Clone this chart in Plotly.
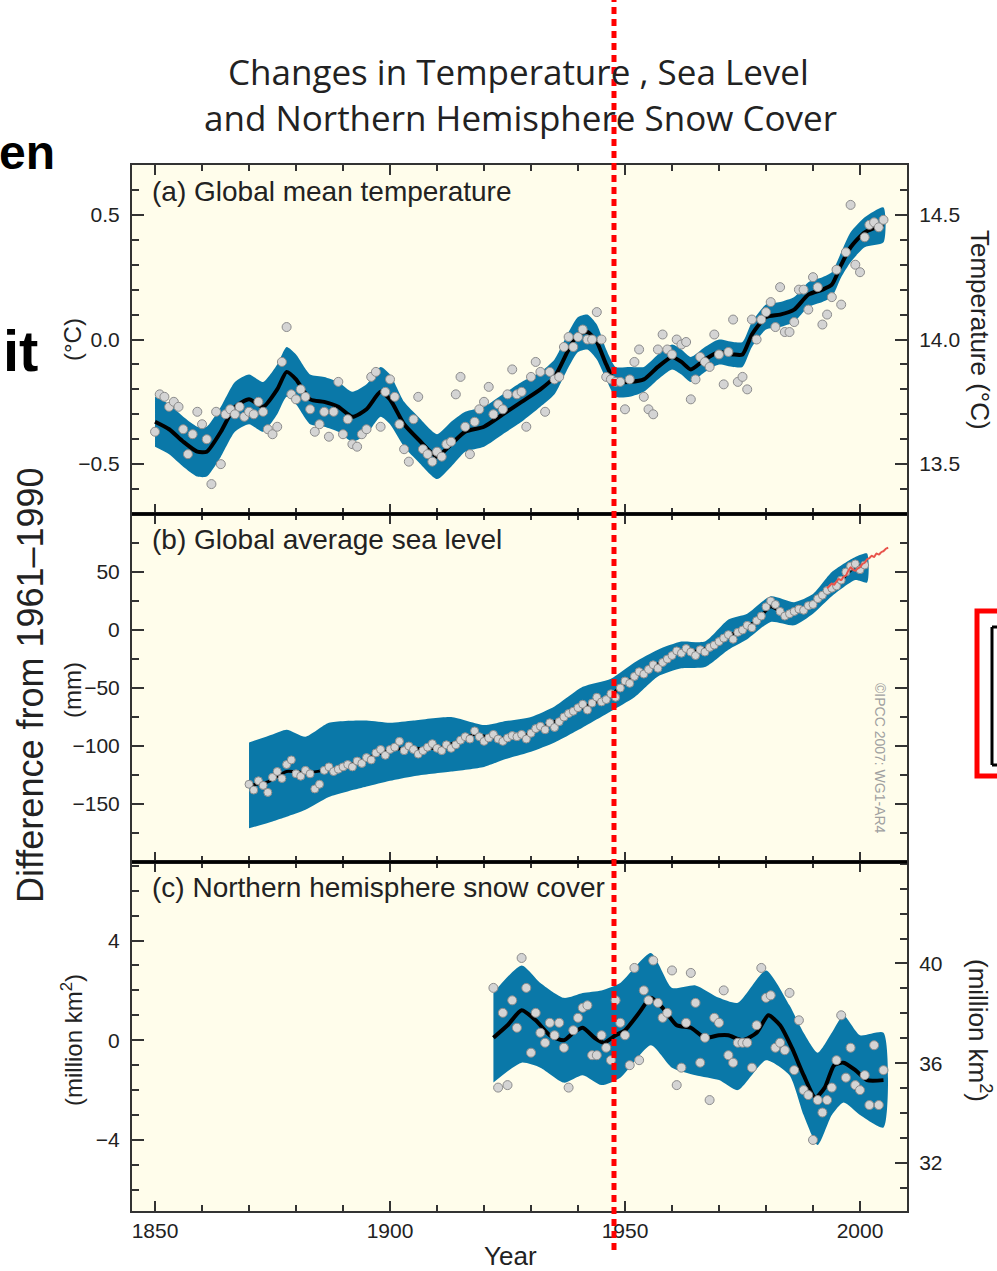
import plotly.graph_objects as go

W, H = 997, 1271

# ---------------- DATA ----------------
# (a) Global mean temperature, annual anomalies (degC), 1850-2005
temp_years = list(range(1850, 2006))
temp_vals = [
    -0.37, -0.22, -0.23, -0.27, -0.25, -0.27, -0.36, -0.46, -0.38, -0.29,
    -0.34, -0.40, -0.58, -0.29, -0.50, -0.30, -0.28, -0.30, -0.27, -0.31,
    -0.29, -0.30, -0.25, -0.29, -0.36, -0.38, -0.35, -0.09, 0.05, -0.22,
    -0.24, -0.20, -0.23, -0.28, -0.37, -0.34, -0.29, -0.39, -0.29, -0.17,
    -0.38, -0.32, -0.42, -0.43, -0.38, -0.36, -0.15, -0.13, -0.35, -0.21,
    -0.16, -0.23, -0.34, -0.44, -0.49, -0.32, -0.23, -0.44, -0.46, -0.49,
    -0.45, -0.47, -0.42, -0.41, -0.22, -0.15, -0.35, -0.46, -0.33, -0.28,
    -0.25, -0.19, -0.30, -0.26, -0.28, -0.22, -0.12, -0.22, -0.21, -0.35,
    -0.15, -0.09, -0.13, -0.29, -0.13, -0.16, -0.15, -0.03, 0.01, -0.03,
    0.01, 0.04, 0.00, 0.00, 0.11, 0.00, -0.15, -0.16, -0.17, -0.17,
    -0.28, -0.16, -0.09, -0.04, -0.23, -0.28, -0.30, -0.04, 0.02, -0.04,
    -0.06, 0.00, -0.02, -0.01, -0.24, -0.16, -0.07, -0.09, -0.11, 0.02,
    -0.06, -0.18, -0.05, 0.08, -0.17, -0.15, -0.20, 0.08, 0.00, 0.08,
    0.11, 0.15, 0.05, 0.21, 0.03, 0.03, 0.07, 0.20, 0.20, 0.12,
    0.25, 0.21, 0.06, 0.10, 0.17, 0.28, 0.14, 0.35, 0.54, 0.30,
    0.27, 0.41, 0.46, 0.47, 0.45, 0.48,
]
temp_smooth_years = [1850, 1853, 1856, 1859, 1861, 1864, 1867, 1870, 1873, 1876,
                     1878, 1880, 1883, 1886, 1889, 1892, 1895, 1898, 1900, 1903,
                     1906, 1910, 1913, 1916, 1920, 1924, 1928, 1932, 1935, 1938,
                     1940, 1942, 1944, 1946, 1948, 1951, 1954, 1957, 1960, 1962,
                     1964, 1967, 1970, 1973, 1975, 1977, 1980, 1983, 1986, 1989,
                     1992, 1994, 1996, 1998, 2001, 2005]
temp_smooth = [-0.33, -0.36, -0.41, -0.45, -0.45, -0.37, -0.27, -0.24, -0.27, -0.20,
               -0.13, -0.16, -0.24, -0.25, -0.27, -0.31, -0.28, -0.21, -0.24, -0.34,
               -0.40, -0.47, -0.42, -0.37, -0.35, -0.30, -0.25, -0.20, -0.15, -0.04,
               0.02, 0.03, -0.01, -0.10, -0.17, -0.17, -0.16, -0.11, -0.07, -0.09,
               -0.12, -0.08, -0.05, -0.06, -0.06, 0.02, 0.09, 0.10, 0.12, 0.18,
               0.20, 0.22, 0.30, 0.37, 0.43, 0.46]
temp_halfwidth = [0.10, 0.10, 0.10, 0.10, 0.10, 0.10, 0.10, 0.10, 0.10, 0.10,
                  0.10, 0.10, 0.10, 0.10, 0.10, 0.10, 0.10, 0.10, 0.10, 0.09,
                  0.09, 0.09, 0.09, 0.08, 0.08, 0.08, 0.08, 0.07, 0.07, 0.07,
                  0.07, 0.07, 0.07, 0.06, 0.06, 0.06, 0.05, 0.05, 0.05, 0.05,
                  0.05, 0.05, 0.05, 0.05, 0.05, 0.05, 0.05, 0.05, 0.05, 0.05,
                  0.05, 0.05, 0.05, 0.06, 0.06, 0.07]

# (b) Global average sea level (mm), annual, 1870-2001
sea_years = list(range(1870, 2002))
sea_vals = [
    -133, -138, -130, -134, -140, -127, -122, -128, -116, -112,
    -124, -126, -121, -124, -137, -133, -121, -118, -122, -120,
    -118, -116, -118, -113, -115, -110, -112, -106, -103, -108,
    -103, -101, -96, -104, -100, -103, -107, -104, -101, -98,
    -102, -104, -99, -102, -99, -95, -92, -94, -87, -92,
    -96, -93, -90, -94, -96, -93, -91, -92, -90, -94,
    -89, -85, -83, -86, -80, -84, -79, -75, -72, -70,
    -67, -64, -69, -63, -58, -62, -60, -55, -58, -50,
    -44, -46, -40, -36, -38, -34, -30, -33, -28, -25,
    -22, -18, -20, -16, -19, -22, -17, -19, -15, -13,
    -10, -7, -4, -8, -2, 0, 4, 2, 8, 12,
    20, 25, 22, 16, 12, 14, 16, 18, 17, 21,
    22, 27, 30, 34, 36, 38, 43, 50, 55, 57,
    52, 56,
]
sea_smooth_years = [1870, 1874, 1878, 1882, 1886, 1890, 1895, 1900, 1905, 1910,
                    1915, 1918, 1922, 1926, 1930, 1934, 1938, 1942, 1946, 1950,
                    1954, 1958, 1962, 1966, 1970, 1974, 1978, 1981, 1984, 1987,
                    1990, 1993, 1996, 1999, 2001]
sea_smooth = [-134, -131, -122, -123, -121, -118, -111, -103, -102, -102,
              -95, -90, -93, -93, -89, -81, -73, -65, -59, -46,
              -36, -27, -18, -18, -9, -1, 8, 20, 14, 16,
              22, 34, 43, 55, 56]
sea_band_years = [1870, 1875, 1878, 1882, 1887, 1895, 1900, 1905, 1913, 1920,
                  1924, 1930, 1935, 1941, 1947, 1952, 1957, 1962, 1967, 1972,
                  1976, 1981, 1986, 1990, 1994, 1999, 2001.5]
sea_upper = [-97, -90, -86, -92, -80, -78, -80, -78, -75, -82,
             -79, -75, -66, -49, -42, -28, -17, -10, -10, 9,
             14, 29, 24, 31, 50, 63, 66]
sea_lower = [-171, -165, -161, -155, -144, -135, -130, -126, -122, -118,
             -112, -105, -97, -84, -70, -58, -40, -33, -32, -17,
             -8, 7, 4, 14, 29, 43, 41]
sat_years = [1993.0, 1993.5, 1994.0, 1994.5, 1995.0, 1995.5, 1996.0, 1996.5, 1997.0,
             1997.5, 1998.0, 1998.5, 1999.0, 1999.5, 2000.0, 2000.5, 2001.0, 2001.5,
             2002.0, 2002.5, 2003.0, 2003.5, 2004.0, 2004.5, 2005.0, 2005.5, 2006.0]
sat_vals = [36, 38, 40, 39, 42, 44, 43, 46, 47, 51, 54, 52, 51, 53, 54, 57, 58, 61,
            62, 64, 63, 66, 65, 67, 68, 70, 71]

# (c) Northern hemisphere snow cover (million km2), annual, 1922-2005
snow_years = list(range(1922, 2006))
snow_vals = [
    2.1, -1.9, 1.1, -1.8, 1.6, 0.5, 3.3, 2.1,
    -0.5, 1.1, 0.3, -0.1, 0.7, 0.2, 0.7, -0.3, -1.9, 0.4,
    0.9, 1.3, 1.4, -0.6, -0.6, 0.2, -0.3, -0.8, 1.6, 0.7,
    0.2, -1.0, 2.9, -0.8, 2.0, 1.6, 3.2, 1.5, 0.9, 1.1,
    2.8, -1.8, -1.1, 0.7, 2.7, 1.5, -0.9, 0.1, -2.4, 0.9,
    0.7, 2.0, -0.6, -0.9, -0.1, -0.1, -0.1, -1.1, 0.6, 2.9,
    1.7, 1.8, -0.3, -0.1, -0.4, 1.9, -1.2, 0.8, -2.0, -2.2,
    -4.0, -2.4, -2.9, -2.4, -1.9, -0.8, 1.0, -1.5, -0.3, -1.8,
    -2.0, -1.4, -2.6, -0.2, -2.6, -1.2,
]
snow_smooth_years = [1922, 1925, 1928, 1931, 1934, 1937, 1939, 1941, 1943.5, 1945.5,
                     1948, 1950, 1953, 1955.5, 1958, 1961, 1964, 1967, 1970, 1972,
                     1975, 1978, 1980.5, 1983, 1985.5, 1988, 1990.5, 1992.5, 1994.5,
                     1996.5, 1999, 2001.5, 2005]
snow_smooth = [0.1, 0.6, 1.2, 0.8, 0.2, 0.0, 0.3, 0.5, 0.1, -0.1,
               0.2, 0.4, 1.1, 1.7, 1.3, 0.6, 0.5, 0.1, 0.2, 0.2,
               0.0, 0.3, 1.0, 0.6, -0.3, -1.4, -2.3, -1.9, -1.0,
               -0.9, -1.2, -1.6, -1.6]
snow_band_years = [1922, 1928, 1932, 1937, 1941, 1945, 1949, 1955.5, 1960, 1965,
                   1970, 1974, 1980, 1985, 1988, 1991, 1994, 1996.5, 2000, 2005]
snow_upper = [1.9, 3.0, 2.3, 1.7, 1.9, 2.0, 2.3, 3.5, 2.1, 2.2,
              1.7, 1.5, 2.8, 1.4, 0.3, -0.5, 0.3, 1.0, 0.2, 0.3]
snow_lower = [-1.7, -0.9, -1.1, -1.7, -1.4, -1.8, -1.5, -0.2, -1.1, -1.4,
              -1.6, -2.0, -0.8, -1.4, -3.0, -4.2, -3.0, -2.5, -3.0, -3.5]

# tick labels
x_tickvals = [1850, 1900, 1950, 2000]
x_ticktext = ["1850", "1900", "1950", "2000"]
a_tickvals = [-0.5, 0.0, 0.5]
a_ticktext = ["\u22120.5", "0.0", "0.5"]
a_right_tickvals = [13.5, 14.0, 14.5]
a_right_ticktext = ["13.5", "14.0", "14.5"]
b_tickvals = [-150, -100, -50, 0, 50]
b_ticktext = ["\u2212150", "\u2212100", "\u221250", "0", "50"]
c_tickvals = [-4, 0, 4]
c_ticktext = ["\u22124", "0", "4"]
c_right_tickvals = [32, 36, 40]
c_right_ticktext = ["32", "36", "40"]

# ---------------- STYLE ----------------
BAND = "#0a78a8"
PT_FILL = "#d4d4d4"
PT_LINE = "#8c8c8c"
BG = "#fffdeb"
AX = "#333333"
FONT = "Liberation Sans, Arial, sans-serif"


def px_x(p):
    return p / W


def px_y(p):
    return 1 - p / H


XL, XR = px_x(132), px_x(907)
dom_a = [px_y(514), px_y(165)]
dom_b = [px_y(862), px_y(514)]
dom_c = [px_y(1211), px_y(862)]

fig = go.Figure()


def band(xs, up, lo, xa, ya):
    fig.add_trace(go.Scatter(
        x=list(xs) + list(xs)[::-1], y=list(up) + list(lo)[::-1],
        fill="toself", fillcolor=BAND, mode="lines",
        line=dict(width=0, color=BAND, shape="spline", smoothing=0.6),
        xaxis=xa, yaxis=ya, hoverinfo="skip", showlegend=False))


def curve(xs, ys, xa, ya, color="black", width=4):
    fig.add_trace(go.Scatter(
        x=xs, y=ys, mode="lines",
        line=dict(color=color, width=width, shape="spline", smoothing=0.6),
        xaxis=xa, yaxis=ya, showlegend=False))


def points(xs, ys, xa, ya, size=9):
    fig.add_trace(go.Scatter(
        x=xs, y=ys, mode="markers",
        marker=dict(size=size, color=PT_FILL, line=dict(color=PT_LINE, width=1)),
        xaxis=xa, yaxis=ya, showlegend=False))


# panel a
ta_up = [s + h for s, h in zip(temp_smooth, temp_halfwidth)]
ta_lo = [s - h for s, h in zip(temp_smooth, temp_halfwidth)]
band(temp_smooth_years, ta_up, ta_lo, "x", "y")
curve(temp_smooth_years, temp_smooth, "x", "y")
points(temp_years, temp_vals, "x", "y")

# panel b
band(sea_band_years, sea_upper, sea_lower, "x2", "y2")
curve(sea_smooth_years, sea_smooth, "x2", "y2", width=3)
points(sea_years, sea_vals, "x2", "y2", size=8)
curve(sat_years, sat_vals, "x2", "y2", color="#e8544c", width=2)

# panel c
band(snow_band_years, snow_upper, snow_lower, "x3", "y3")
curve(snow_smooth_years, snow_smooth, "x3", "y3")
points(snow_years, snow_vals, "x3", "y3")

# invisible traces so the right-hand (absolute value) axes are drawn
fig.add_trace(go.Scatter(x=[1900], y=[14.0], mode="markers", marker=dict(opacity=0),
                         xaxis="x", yaxis="y4", hoverinfo="skip", showlegend=False))
fig.add_trace(go.Scatter(x=[1900], y=[36.0], mode="markers", marker=dict(opacity=0),
                         xaxis="x3", yaxis="y5", hoverinfo="skip", showlegend=False))

tickfont = dict(family=FONT, size=21, color="#222")
XRANGE = [1845.1, 2010.0]


def xaxis(anchor, labels):
    return dict(
        domain=[XL, XR], anchor=anchor, range=XRANGE,
        showline=True, linecolor=AX, linewidth=2, mirror="ticks",
        ticks="inside", ticklen=10, tickwidth=1.5, tickcolor=AX,
        tickvals=x_tickvals, ticktext=x_ticktext, showticklabels=labels,
        tickfont=tickfont, showgrid=False, zeroline=False,
        minor=dict(dtick=10, tick0=1850, ticks="inside", ticklen=6,
                   tickwidth=1.5, tickcolor=AX, showgrid=False),
        fixedrange=True)


def yaxis(domain, rng, tv, tt, mdtick, mtick0, anchor="x", mirror="ticks",
          side="left", overlaying=None, labels=True):
    d = dict(
        domain=domain, anchor=anchor, range=rng, side=side,
        showline=True, linecolor=AX, linewidth=2, mirror=mirror,
        ticks="inside", ticklen=12, tickwidth=1.5, tickcolor=AX,
        tickvals=tv, ticktext=tt, showticklabels=labels,
        tickfont=tickfont, showgrid=False, zeroline=False,
        minor=dict(dtick=mdtick, tick0=mtick0, ticks="inside", ticklen=7,
                   tickwidth=1.5, tickcolor=AX, showgrid=False),
        fixedrange=True, ticklabelstandoff=6)
    if overlaying:
        d["overlaying"] = overlaying
    return d


fig.update_layout(
    width=W, height=H,
    margin=dict(l=0, r=0, t=0, b=0),
    paper_bgcolor="white", plot_bgcolor=BG,
    showlegend=False,
    font=dict(family=FONT, color="#222"),
    xaxis=xaxis("y", False),
    xaxis2=xaxis("y2", False),
    xaxis3=xaxis("y3", True),
    yaxis=yaxis(dom_a, [-0.70, 0.70], a_tickvals, a_ticktext, 0.1, 0, mirror=False),
    yaxis4=yaxis(dom_a, [13.30, 14.70], a_right_tickvals, a_right_ticktext, 0.1, 13.0,
                 side="right", overlaying="y", mirror=False),
    yaxis2=yaxis(dom_b, [-200, 100], b_tickvals, b_ticktext, 25, 0, anchor="x2"),
    yaxis3=yaxis(dom_c, [-6.85, 7.15], c_tickvals, c_ticktext, 1, 0, anchor="x3",
                 mirror=False),
    yaxis5=yaxis(dom_c, [30.07, 44.07], c_right_tickvals, c_right_ticktext, 1, 30,
                 anchor="x3", side="right", overlaying="y3", mirror=False),
)

ann = []


def text(x, y, s, size, xanchor="center", yanchor="middle", angle=0, color="#222",
         family=FONT):
    ann.append(dict(x=px_x(x), y=px_y(y), xref="paper", yref="paper", text=s,
                    showarrow=False, xanchor=xanchor, yanchor=yanchor,
                    textangle=angle, font=dict(size=size, color=color, family=family)))


TITLE_FONT = "Open Sans, Noto Sans, sans-serif"
text(518, 72, "Changes in Temperature , Sea Level", 35, family=TITLE_FONT)
text(520, 118, "and Northern Hemisphere Snow Cover", 35, family=TITLE_FONT)

text(150, 191, "(a) Global mean temperature", 28, xanchor="left")
text(150, 540, "(b) Global average sea level", 28, xanchor="left")
text(150, 888, "(c) Northern hemisphere snow cover", 28, xanchor="left")

text(510, 1256, "Year", 26)
text(30, 685, "Difference from 1961\u20131990", 36, angle=-90)
text(72, 340, "(\u00b0C)", 24, angle=-90)
text(72, 690, "(mm)", 24, angle=-90)
text(72, 1040, "(million km<sup>2</sup>)", 24, angle=-90)
text(980, 330, "Temperature (\u00b0C)", 26, angle=90)
text(980, 1030, "(million km<sup>2</sup>)", 26, angle=90)
text(880, 758, "\u00a9IPCC 2007: WG1-AR4", 14, angle=90, color="#a0a0a0")

ann.append(dict(x=px_x(57), y=px_y(153), xref="paper", yref="paper",
                text="<b>en</b>", showarrow=False, xanchor="right", yanchor="middle",
                font=dict(size=48, color="black", family="Liberation Sans, Arial")))
ann.append(dict(x=px_x(40), y=px_y(350), xref="paper", yref="paper",
                text="<b>it</b>", showarrow=False, xanchor="right", yanchor="middle",
                font=dict(size=58, color="black", family="Liberation Sans, Arial")))
fig.update_layout(annotations=ann)

shapes = []
# panel separators
for yy in (514, 862):
    shapes.append(dict(type="line", xref="paper", yref="paper", x0=XL, x1=XR,
                       y0=px_y(yy), y1=px_y(yy), line=dict(color="black", width=3)))
# red dotted marker line
shapes.append(dict(type="line", xref="paper", yref="paper", x0=px_x(614), x1=px_x(614),
                   y0=px_y(1250), y1=px_y(0), line=dict(color="#ff0000", width=5, dash="7px,5px")))
# red box at right edge, with a black box inside
shapes.append(dict(type="rect", xref="paper", yref="paper", x0=px_x(977), x1=px_x(1010),
                   y0=px_y(776), y1=px_y(611), line=dict(color="#ff0000", width=5)))
shapes.append(dict(type="line", xref="paper", yref="paper", x0=px_x(992), x1=px_x(992),
                   y0=px_y(765), y1=px_y(627), line=dict(color="black", width=3)))
shapes.append(dict(type="line", xref="paper", yref="paper", x0=px_x(992), x1=px_x(1000),
                   y0=px_y(627), y1=px_y(627), line=dict(color="black", width=3)))
shapes.append(dict(type="line", xref="paper", yref="paper", x0=px_x(992), x1=px_x(1000),
                   y0=px_y(765), y1=px_y(765), line=dict(color="black", width=3)))
fig.update_layout(shapes=shapes)

# remove the default 8px page margin so the 997x1271 figure fills the window
fig.write_html("out.html", config={"displayModeBar": False},
               post_script="document.body.style.margin='0';")
